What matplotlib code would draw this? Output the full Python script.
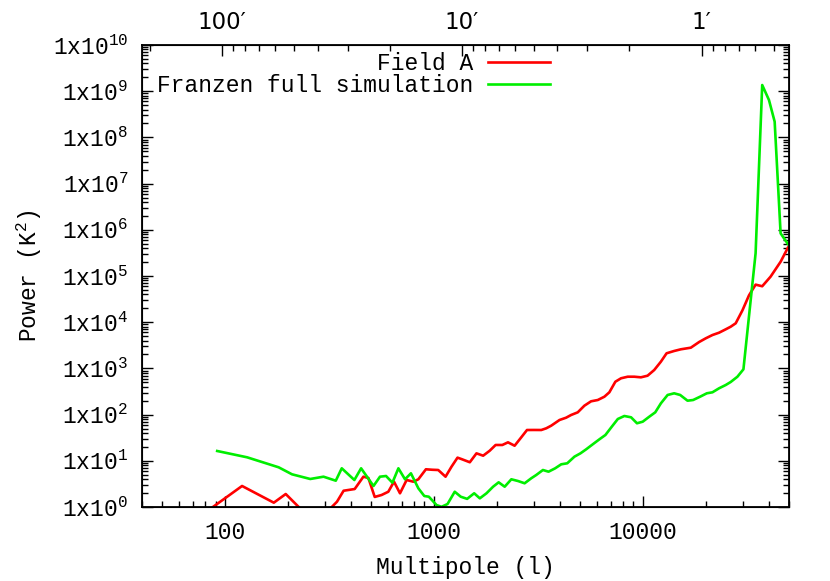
import numpy as np
import matplotlib
matplotlib.use('Agg')
import matplotlib.pyplot as plt
from matplotlib.ticker import FixedLocator, LogLocator, NullFormatter

plt.rcParams['font.family'] = ['Liberation Mono', 'DejaVu Sans']
plt.rcParams['mathtext.fontset'] = 'custom'
plt.rcParams['mathtext.rm'] = 'Liberation Mono'
plt.rcParams['font.size'] = 16.5

# Field A power spectrum (multipole, power)
field_l = [80, 120.5, 171, 195, 225, 260, 300, 324, 343, 369, 417, 459, 485, 520, 561,
           604, 643, 687, 739, 796, 841, 914, 980, 1047, 1135, 1212, 1295, 1353, 1483,
           1596, 1718, 1846, 1971, 2122, 2259, 2430, 2616, 2785, 3010, 3260, 3443, 3636,
           3985, 4286, 4527, 4873, 5244, 5644, 6077, 6536, 6904, 7376, 7852, 8453, 9085,
           9775, 10520, 11320, 12180, 12970, 14100, 15180, 16940, 18570, 19980, 21510,
           23140, 24900, 26300, 27790, 29920, 32160, 34600, 37220, 40800, 45600, 49400]
field_p = [0.75, 2.85, 1.24, 1.91, 1.0, 0.55, 0.6, 1.0, 1.30, 2.25, 2.45, 4.53, 4.24, 1.65,
           1.82, 2.14, 3.53, 1.98, 3.84, 3.53, 3.98, 6.55, 6.4, 6.32, 4.53, 7.45, 11.7, 10.9,
           9.3, 14.5, 12.9, 16.5, 22.0, 22.0, 25.1, 21.2, 32.3, 46.4, 46.5, 46.4, 50.5, 57.5,
           76.4, 85.7, 98, 112, 156, 194, 207, 244, 304, 515, 611, 661, 661, 641, 695, 923,
           1396, 2123, 2382, 2590, 2806, 3725, 4480, 5280, 5930, 7020, 7990, 9470, 18000,
           38000, 65000, 60000, 96600, 204000, 410000]

# Franzen full simulation
sim_l = [91.6, 127.4, 180.4, 209, 255.5, 295.7, 338.5, 361.6, 415.5, 447.5, 513, 551, 589,
         632, 675, 726, 775, 841, 898, 944, 1028, 1086, 1160, 1256, 1342, 1440, 1556, 1656,
         1782, 1917, 2038, 2178, 2344, 2523, 2713, 2918, 3084, 3320, 3531, 3800, 4062, 4340,
         4700, 5020, 5344, 5752, 6188, 6610, 7090, 7578, 8144, 8770, 9360, 9970, 10720,
         11450, 12190, 13120, 14100, 15070, 16340, 17380, 18770, 20210, 21510, 23130, 24890,
         26300, 28320, 30260, 34600, 37220, 40090, 42690, 45580, 49400]
sim_p = [16.3, 11.9, 7.23, 5.10, 4.04, 4.53, 3.71, 6.88, 3.84, 6.88, 2.85, 4.53, 4.69, 3.36,
         6.88, 3.98, 5.36, 2.54, 1.73, 1.67, 1.10, 1.01, 1.16, 2.14, 1.67, 1.5, 1.98, 1.54,
         1.98, 2.75, 3.42, 2.75, 3.98, 3.65, 3.26, 4.18, 4.93, 6.32, 5.81, 6.88, 8.40, 8.83,
         12.3, 14.5, 17.7, 22.8, 29.2, 36.2, 54.7, 80.3, 93.3, 87.4, 64.9, 70.2, 90.1, 112,
         176, 266, 289, 266, 200, 207, 244, 289, 304, 371, 437, 508, 661, 957, 3.1e5,
         1.36e9, 6.45e8, 2.19e8, 8.4e5, 4.93e5]

top_ticks = [100, 10, 1]
top_labels = ['100\u2032', '10\u2032', '1\u2032']

fig = plt.figure(figsize=(8.3, 5.81), dpi=100)
ax = fig.add_axes([142/830, 1-507/581, (789-142)/830, (507-45)/581])

ax.plot(field_l, field_p, color='#ff0000', lw=1.9, label='Field A')
ax.plot(sim_l, sim_p, color='#00ee00', lw=1.9, label='Franzen full simulation')

ax.set_xscale('log')
ax.set_yscale('log')
ax.set_xlim(40, 50000)
ax.set_ylim(1, 1e10)

yt = [10.0**k for k in range(11)]
ax.set_yticks(yt)
ax.set_yticklabels([r'1x10$^{\mathregular{%d}}$' % k for k in range(11)])
ax.yaxis.set_minor_locator(LogLocator(base=10, subs=np.arange(2, 10), numticks=20))
ax.yaxis.set_minor_formatter(NullFormatter())
ax.set_xticks([100, 1000, 10000])
ax.set_xticklabels(['100', '1000', '10000'])
ax.xaxis.set_minor_formatter(NullFormatter())

ax.tick_params(which='both', direction='in', top=False, right=True, width=1)
ax.tick_params(which='major', length=8, pad=10)
ax.tick_params(which='minor', length=4)
ax.tick_params(axis='x', pad=10)
for s in ax.spines.values():
    s.set_linewidth(1.3)

ax.set_xlabel('Multipole (l)', labelpad=9)
ax.set_ylabel(r'Power (K$^{\mathregular{2}}$)', labelpad=6)

ax2 = ax.twiny()
ax2.set_xscale('log')
ax2.set_xlim(216, 0.432)
ax2.xaxis.set_major_locator(FixedLocator(top_ticks))
ax2.set_xticklabels(top_labels, family='DejaVu Sans')
ax2.xaxis.set_minor_locator(LogLocator(base=10, subs=np.arange(2, 10), numticks=20))
ax2.xaxis.set_minor_formatter(NullFormatter())
ax2.tick_params(which='both', direction='in', width=1)
ax2.tick_params(which='major', length=8, pad=8)
ax2.tick_params(which='minor', length=4)

leg = ax.legend(loc='upper right', bbox_to_anchor=(550/830, 1-52/581),
                bbox_transform=fig.transFigure, frameon=False, markerfirst=False,
                handlelength=2.7, handletextpad=0.65, labelspacing=-0.06,
                borderpad=0, borderaxespad=0)

fig.savefig('out.png', dpi=100)
